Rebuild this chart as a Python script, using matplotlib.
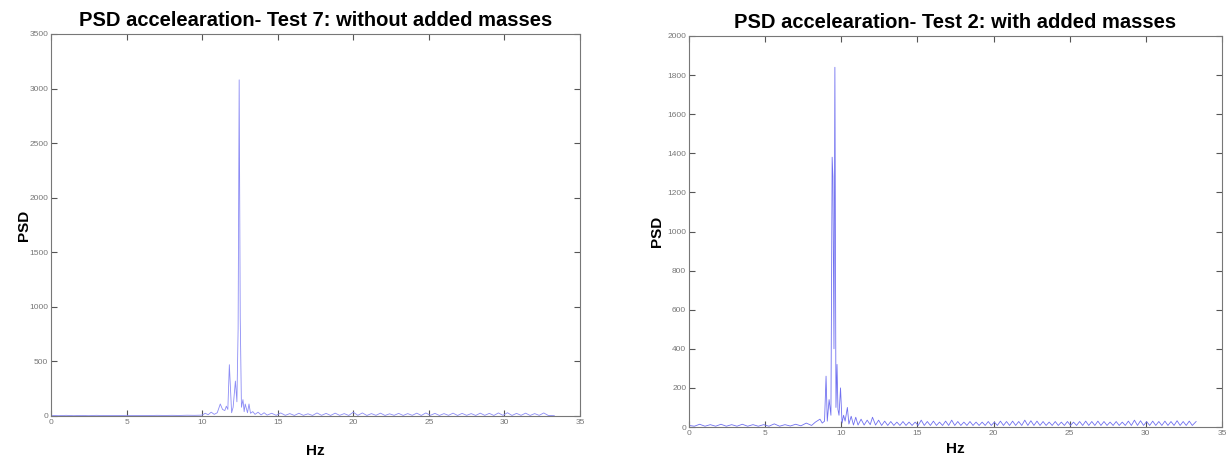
import numpy as np
import matplotlib.pyplot as plt

plt.rcParams['font.family'] = ['Liberation Sans', 'DejaVu Sans']

# Test 7: without added masses (frequency in Hz, PSD)
hz_t7 = [0.0, 0.5, 1.0, 1.5, 2.0, 2.5, 3.0, 3.5, 4.0, 4.5, 5.0, 5.5, 6.0, 6.5, 7.0,
         7.5, 8.0, 8.5, 9.0, 9.5, 10.0, 10.2, 10.4, 10.6, 10.8, 11.0, 11.2, 11.35,
         11.5, 11.6, 11.7, 11.8, 11.95, 12.05, 12.2, 12.3, 12.38, 12.45, 12.52,
         12.6, 12.7, 12.78, 12.85, 13.0, 13.1, 13.2, 13.35, 13.5, 13.7, 13.9,
         14.1, 14.3, 14.6, 14.9, 15.2, 15.5, 15.8, 16.1, 16.4, 16.7, 17.0, 17.3,
         17.6, 17.9, 18.2, 18.5, 18.8, 19.1, 19.4, 19.7, 20.0, 20.3, 20.6, 20.9,
         21.2, 21.5, 21.8, 22.1, 22.4, 22.7, 23.0, 23.3, 23.6, 23.9, 24.2, 24.5,
         24.8, 25.1, 25.4, 25.7, 26.0, 26.3, 26.6, 26.9, 27.2, 27.5, 27.8, 28.1,
         28.4, 28.7, 29.0, 29.3, 29.6, 29.9, 30.2, 30.5, 30.8, 31.1, 31.4, 31.7,
         32.0, 32.3, 32.6, 32.9, 33.3]
psd_t7 = [5, 3, 6, 3, 5, 3, 6, 4, 5, 4, 6, 4, 5, 4, 6,
          5, 6, 5, 7, 6, 8, 25, 12, 35, 15, 30, 110, 60,
          50, 90, 60, 470, 30, 80, 320, 130, 800, 3080, 900,
          80, 150, 40, 110, 30, 110, 25, 40, 15, 35, 10,
          30, 8, 25, 6, 28, 6, 22, 5, 25, 6, 20, 5,
          28, 6, 24, 5, 26, 6, 22, 5, 35, 6, 28, 5,
          22, 6, 26, 5, 20, 6, 24, 5, 22, 6, 26, 5,
          28, 6, 24, 5, 22, 6, 26, 5, 24, 6, 22, 5,
          26, 6, 24, 5, 28, 6, 30, 5, 24, 6, 26, 5,
          22, 6, 28, 5, 3]

# Test 2: with added masses (frequency in Hz, PSD)
hz_t2 = [0.0, 0.35, 0.7, 1.05, 1.4, 1.75, 2.1, 2.45, 2.8, 3.15, 3.5, 3.85, 4.2,
         4.55, 4.9, 5.25, 5.6, 5.95, 6.3, 6.65, 7.0, 7.35, 7.7, 8.05, 8.3, 8.6,
         8.75, 8.9, 9.0, 9.08, 9.2, 9.32, 9.4, 9.45, 9.52, 9.58, 9.65, 9.72, 9.78,
         9.85, 9.95, 10.05, 10.15, 10.25, 10.4, 10.5, 10.65, 10.8, 10.95, 11.1,
         11.3, 11.5, 11.7, 11.9, 12.05, 12.25, 12.45, 12.65, 12.85, 13.05, 13.25,
         13.45, 13.65, 13.85, 14.05, 14.25, 14.45, 14.65, 14.85, 15.05, 15.25,
         15.45, 15.65, 15.85, 16.05, 16.25, 16.45, 16.65, 16.85, 17.05, 17.25,
         17.45, 17.65, 17.85, 18.05, 18.25, 18.45, 18.65, 18.85, 19.05, 19.25,
         19.45, 19.65, 19.85, 20.05, 20.25, 20.45, 20.65, 20.85, 21.05, 21.25,
         21.45, 21.65, 21.85, 22.05, 22.25, 22.45, 22.65, 22.85, 23.05, 23.25,
         23.45, 23.65, 23.85, 24.05, 24.25, 24.45, 24.65, 24.85, 25.05, 25.25,
         25.45, 25.65, 25.85, 26.05, 26.25, 26.45, 26.65, 26.85, 27.05, 27.25,
         27.45, 27.65, 27.85, 28.05, 28.25, 28.45, 28.65, 28.85, 29.05, 29.25,
         29.45, 29.65, 29.85, 30.05, 30.25, 30.45, 30.65, 30.85, 31.05, 31.25,
         31.45, 31.65, 31.85, 32.05, 32.25, 32.45, 32.65, 32.85, 33.05, 33.3]
psd_t2 = [8, 4, 14, 4, 12, 4, 14, 4, 12, 4, 14, 4, 12,
          4, 12, 4, 16, 4, 12, 5, 14, 6, 20, 8, 25, 40,
          20, 30, 260, 30, 140, 60, 1380, 1280, 400, 1840, 100, 320, 90,
          60, 200, 20, 60, 30, 100, 15, 55, 10, 50, 10,
          40, 10, 35, 12, 50, 10, 35, 8, 30, 8, 28,
          8, 25, 8, 28, 8, 25, 8, 25, 8, 35,
          8, 28, 8, 30, 8, 25, 8, 30, 8, 35,
          8, 28, 8, 25, 8, 28, 8, 25, 8, 25,
          8, 28, 8, 25, 8, 30, 8, 28, 8, 30,
          8, 28, 8, 35, 8, 32, 8, 30, 8, 28,
          8, 25, 8, 28, 8, 25, 8, 28, 8, 25,
          8, 28, 8, 30, 8, 28, 8, 30, 8, 28,
          8, 25, 8, 28, 8, 25, 8, 30, 8, 35,
          8, 32, 8, 28, 8, 30, 8, 28, 8, 30,
          8, 28, 8, 32, 8, 28, 8, 30, 8, 28]

panels = [
    (hz_t7, psd_t7, "PSD accelearation- Test 7: without added masses",
     np.arange(0, 3501, 500), 3500, '#8c8cf5'),
    (hz_t2, psd_t2, "PSD accelearation- Test 2: with added masses",
     np.arange(0, 2001, 200), 2000, '#7070f0'),
]

fig = plt.figure(figsize=(12.3, 4.59), dpi=100)
rects = [[51 / 1230, 1 - 416 / 459, 529 / 1230, 382 / 459],
         [689 / 1230, 1 - 427 / 459, 533 / 1230, 391 / 459]]

for rect, (hz, psd, title, yt, ymax, col) in zip(rects, panels):
    ax = fig.add_axes(rect)
    ax.plot(hz, psd, color=col, lw=0.6)
    ax.set_xlim(0, 35)
    ax.set_ylim(0, ymax)
    ax.set_xticks(np.arange(0, 36, 5))
    ax.set_yticks(yt)
    ax.tick_params(direction='in', top=True, right=True, length=4,
                   labelsize=6, labelcolor='#777777', color='#555555', pad=2)
    for s in ax.spines.values():
        s.set_color('#777777')
        s.set_linewidth(0.8)
    ax.set_title(title, fontsize=14.5, fontweight='bold', pad=6)

fig.axes[0].set_ylabel("PSD", fontsize=11, fontweight='bold', labelpad=-1)
fig.axes[1].set_ylabel("PSD", fontsize=11, fontweight='bold', labelpad=2)
fig.axes[0].set_xlabel("Hz", fontsize=11, fontweight='bold', labelpad=13)
fig.axes[1].set_xlabel("Hz", fontsize=11, fontweight='bold', labelpad=4)

fig.savefig("out.png", dpi=100)
